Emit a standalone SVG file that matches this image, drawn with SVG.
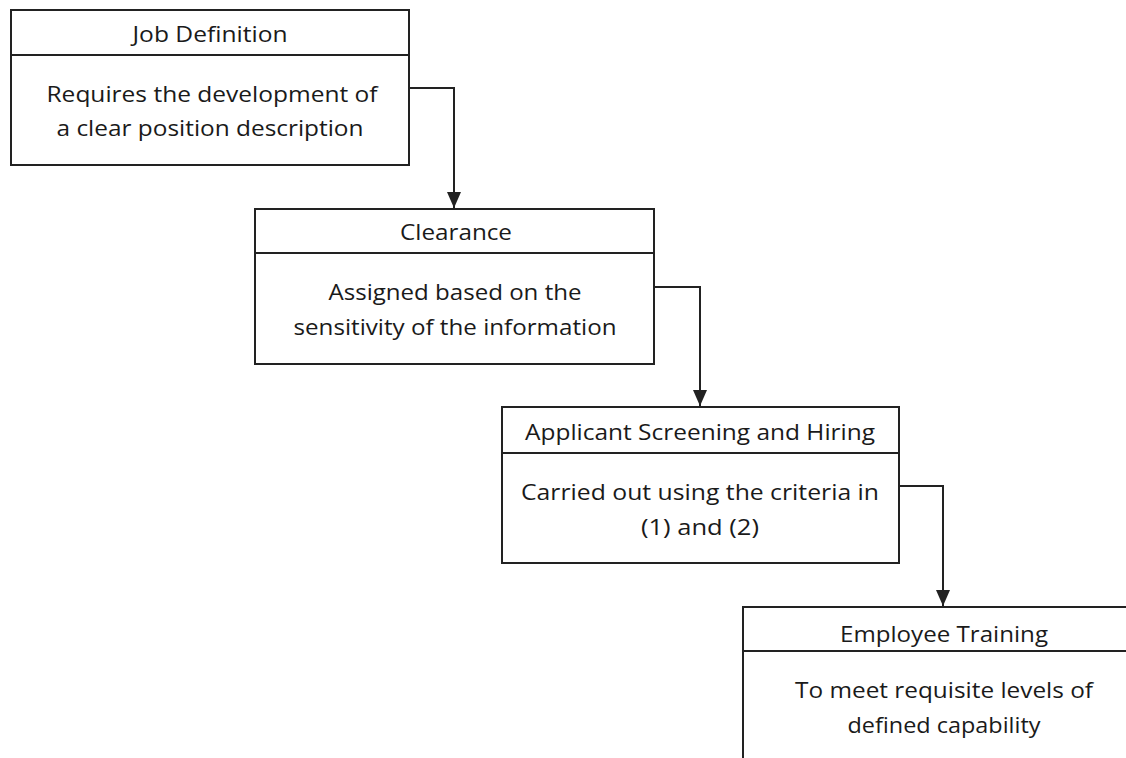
<svg xmlns="http://www.w3.org/2000/svg" width="1126" height="758" viewBox="0 0 1126 758">
<defs>
<style>
.box{fill:#fff;stroke:#222;stroke-width:2}
.div{stroke:#222;stroke-width:2}
.t{font-family:"Open Sans","Liberation Sans",sans-serif;font-size:21px;fill:#1a1a1a;text-anchor:middle}
.conn{fill:none;stroke:#222;stroke-width:2}
</style>
<marker id="arr" markerUnits="userSpaceOnUse" markerWidth="14" markerHeight="16" viewBox="0 0 14 16" refX="7" refY="16" orient="0">
<path d="M0,0 L14,0 L7,16 Z" fill="#222"/>
</marker>
</defs>
<rect width="1126" height="758" fill="#fff"/>
<g id="connectors">
<path class="conn" d="M409,88 H454 V208" marker-end="url(#arr)"/>
<path class="conn" d="M654,287 H700 V406" marker-end="url(#arr)"/>
<path class="conn" d="M899,486 H943 V606" marker-end="url(#arr)"/>
</g>
<g id="node1">
<rect class="box" x="11" y="10" width="398" height="155"/>
<line class="div" x1="11" y1="55" x2="409" y2="55"/>
<text class="t" x="210" y="42" textLength="155" lengthAdjust="spacingAndGlyphs">Job Definition</text>
<text class="t" x="212" y="102" textLength="331" lengthAdjust="spacingAndGlyphs">Requires the development of</text>
<text class="t" x="210" y="136" textLength="307" lengthAdjust="spacingAndGlyphs">a clear position description</text>
</g>
<g id="node2">
<rect class="box" x="255" y="209" width="399" height="155"/>
<line class="div" x1="255" y1="253" x2="654" y2="253"/>
<text class="t" x="456" y="240" textLength="112" lengthAdjust="spacingAndGlyphs">Clearance</text>
<text class="t" x="455" y="300" textLength="253" lengthAdjust="spacingAndGlyphs">Assigned based on the</text>
<text class="t" x="455" y="335" textLength="323" lengthAdjust="spacingAndGlyphs">sensitivity of the information</text>
</g>
<g id="node3">
<rect class="box" x="502" y="407" width="397" height="156"/>
<line class="div" x1="502" y1="453" x2="899" y2="453"/>
<text class="t" x="700" y="440" textLength="350" lengthAdjust="spacingAndGlyphs">Applicant Screening and Hiring</text>
<text class="t" x="700" y="500" textLength="358" lengthAdjust="spacingAndGlyphs">Carried out using the criteria in</text>
<text class="t" x="700" y="535" textLength="118" lengthAdjust="spacingAndGlyphs">(1) and (2)</text>
</g>
<g id="node4">
<rect class="box" x="743" y="607" width="402" height="160"/>
<line class="div" x1="743" y1="651" x2="1145" y2="651"/>
<text class="t" x="944" y="642" textLength="208" lengthAdjust="spacingAndGlyphs">Employee Training</text>
<text class="t" x="944" y="698" textLength="298" lengthAdjust="spacingAndGlyphs">To meet requisite levels of</text>
<text class="t" x="944" y="733" textLength="193" lengthAdjust="spacingAndGlyphs">defined capability</text>
</g>
</svg>
